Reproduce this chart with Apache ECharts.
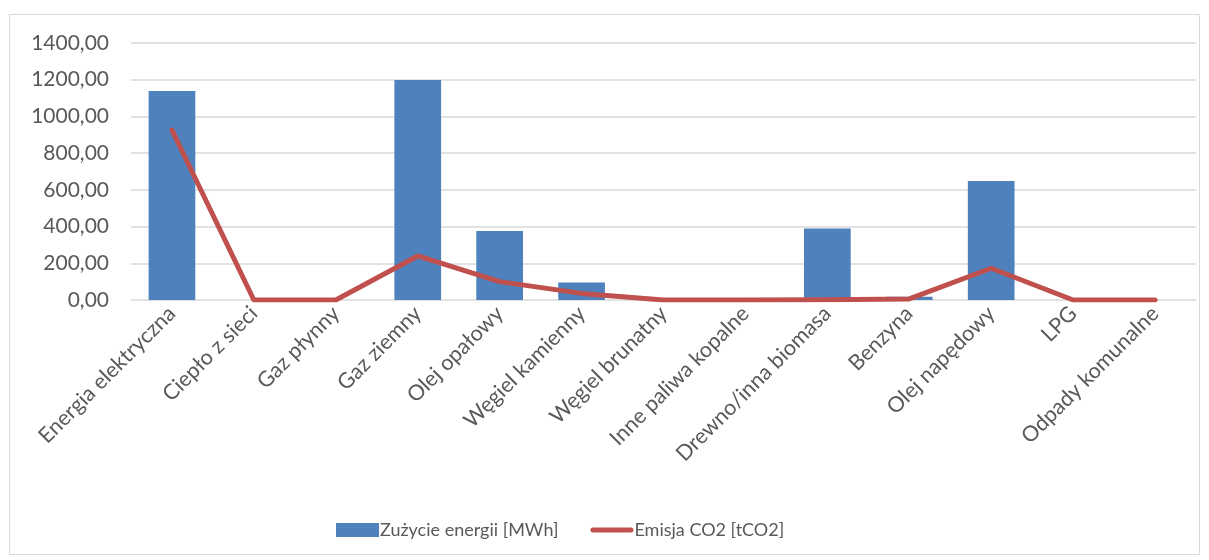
<!DOCTYPE html>
<html>
<head>
<meta charset="utf-8">
<script src="https://cdn.jsdelivr.net/npm/echarts@6/dist/echarts.min.js"></script>
<style>
html,body{margin:0;padding:0;background:#fff;}
#c{width:1209px;height:560px;}
</style>
</head>
<body>
<div id="c"></div>
<script>
const categories = ['Energia elektryczna','Ciepło z sieci','Gaz płynny','Gaz ziemny','Olej opałowy','Węgiel kamienny','Węgiel brunatny','Inne paliwa kopalne','Drewno/inna biomasa','Benzyna','Olej napędowy','LPG','Odpady komunalne'];
const energyMWh = [1138, 0, 0, 1198, 376, 96, 0, 0, 390, 18, 648, 0, 0];
const co2t = [926, 0, 0, 240, 100, 36, 0, 0, 2, 6, 173, 0, 0];
const yTicks = [0, 200, 400, 600, 800, 1000, 1200, 1400];

const chart = echarts.init(document.getElementById('c'), null, {renderer:'canvas'});
const font = 'Lato, "Open Sans", sans-serif';
chart.setOption({
  animation:false,
  backgroundColor:'#fff',
  textStyle:{fontFamily:font},
  graphic:[{type:'rect',shape:{x:9.5,y:14.5,width:1190,height:540},style:{fill:'none',stroke:'#d9d9d9',lineWidth:1},silent:true,z:-1}],
  grid:{left:131,right:13,top:43,bottom:260,containLabel:false},
  legend:{
    left:331, top:516, itemGap:32, itemWidth:43, itemHeight:14,
    textStyle:{fontFamily:font,fontSize:18,color:'#595959',padding:[0,0,0,-4]},
    data:[
      {name:'Zużycie energii [MWh]',icon:'rect'},
      {name:'Emisja CO2 [tCO2]',icon:'path://M0,0 M2.5,4.5 L40.5,4.5 A2.5,2.5 0 0 1 40.5,9.5 L2.5,9.5 A2.5,2.5 0 0 1 2.5,4.5 Z M43,14'}
    ]
  },
  xAxis:{
    type:'category', data:categories,
    axisLine:{show:false}, axisTick:{show:false},
    axisLabel:{rotate:45, interval:0, fontSize:21.5, color:'#595959', fontFamily:font, margin:10}
  },
  yAxis:{
    type:'value', min:yTicks[0], max:yTicks[yTicks.length-1], interval:200,
    axisLine:{show:false}, axisTick:{show:false},
    splitLine:{lineStyle:{color:'#d9d9d9',width:1.5}},
    axisLabel:{fontSize:21, color:'#595959', fontFamily:font, margin:22,
      formatter:v=>v.toFixed(2).replace('.',',')}
  },
  series:[
    {name:'Zużycie energii [MWh]', type:'bar', data:energyMWh, barCategoryGap:'43%',
     itemStyle:{color:'#4F81BD'}},
    {name:'Emisja CO2 [tCO2]', type:'line', data:co2t, symbol:'none',
     lineStyle:{color:'#C0504D',width:5,cap:'round',join:'round'}, itemStyle:{color:'#C0504D'}}
  ]
});
</script>
</body>
</html>
